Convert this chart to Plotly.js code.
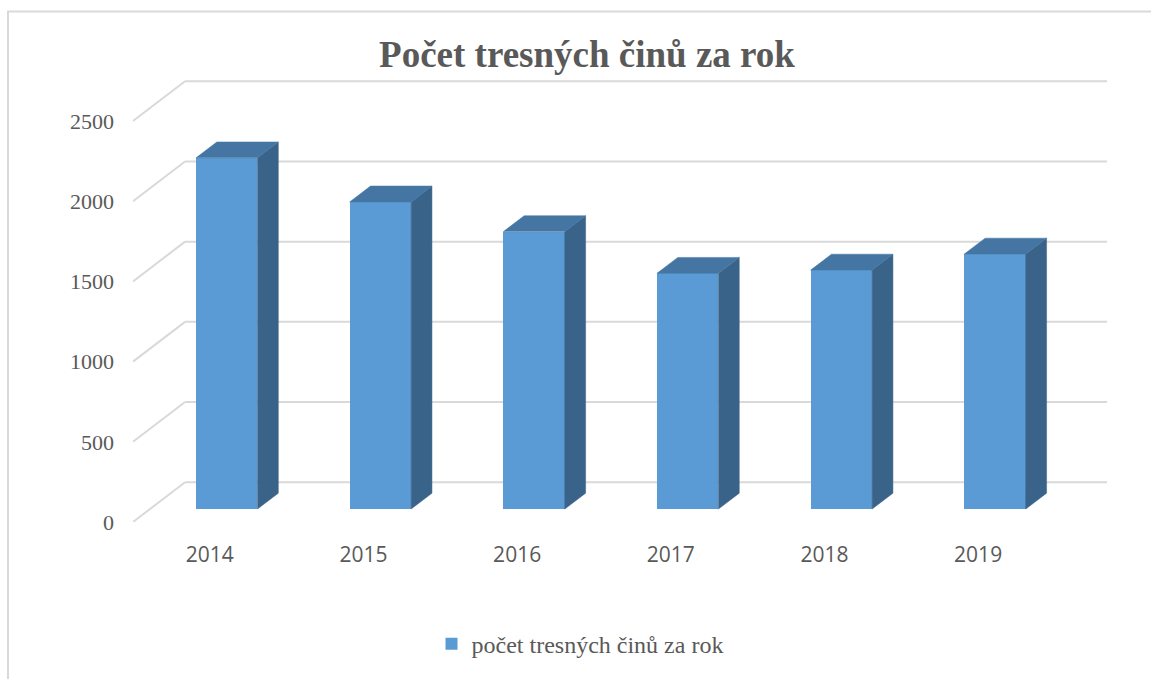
<!DOCTYPE html>
<html>
<head>
<meta charset="utf-8">
<script src="https://cdn.plot.ly/plotly-3.0.1.min.js"></script>
<style>html,body{margin:0;padding:0;background:#fff;}#chart{width:1151px;height:679px;}</style>
</head>
<body>
<div id="chart"></div>
<script>
// ---- data ----
const years = ['2014', '2015', '2016', '2017', '2018', '2019'];
const crimes = [2190, 1915, 1730, 1470, 1490, 1590];
const yTickVals = [0, 500, 1000, 1500, 2000, 2500];
const yTickText = ['0', '500', '1000', '1500', '2000', '2500'];
const seriesName = 'počet tresných činů za rok';
const chartTitle = 'Počet tresných činů za rok';

// ---- 3D projection geometry (oblique) ----
const DX = 52 / 153.5;   // full depth offset, category units
const DY = 248;          // full depth offset, value units
const D0 = 0.325, D1 = 0.725; // bar front / back depth fractions
const BW = 0.4;          // bar width (category units)
const YMAX = 2756;

const xIdx = years.map((_, i) => i);
const GRID = '#d9d9d9', TXT = '#595959';
const FRONT = '#5b9bd5', SIDE = '#3a6389', TOP = '#4576a3';

const traces = [];
// side & top faces computed from values
crimes.forEach((v, i) => {
  const xl = i + D0 * DX - BW / 2, xr = i + D0 * DX + BW / 2;
  const b = D0 * DY;
  const ddx = (D1 - D0) * DX, ddy = (D1 - D0) * DY;
  traces.push({
    type: 'scatter', mode: 'lines', fill: 'toself', fillcolor: SIDE,
    line: {width: 0.5, color: SIDE}, hoverinfo: 'skip', showlegend: false,
    x: [xr, xr + ddx, xr + ddx, xr, xr],
    y: [b, b + ddy, b + ddy + v, b + v, b]
  });
  traces.push({
    type: 'scatter', mode: 'lines', fill: 'toself', fillcolor: TOP,
    line: {width: 0.5, color: TOP}, hoverinfo: 'skip', showlegend: false,
    x: [xl, xr, xr + ddx, xl + ddx, xl],
    y: [b + v, b + v, b + v + ddy, b + v + ddy, b + v]
  });
});
// front faces
traces.push({
  type: 'bar', name: seriesName,
  x: xIdx.map(i => i + D0 * DX), y: crimes, base: crimes.map(() => D0 * DY),
  width: BW, marker: {color: FRONT, line: {width: 0}},
  showlegend: true
});

// gridlines: back wall + left side wall diagonals
const shapes = [];
yTickVals.forEach(t => {
  shapes.push({type: 'line', xref: 'x', yref: 'y', layer: 'below',
    x0: -0.5 + DX, x1: 5.5 + DX, y0: t + DY, y1: t + DY,
    line: {color: GRID, width: 2}});
  shapes.push({type: 'line', xref: 'x', yref: 'y', layer: 'below',
    x0: -0.5, x1: -0.5 + DX, y0: t, y1: t + DY,
    line: {color: GRID, width: 2}});
});
// chart frame (Excel chart area border)
const pw = 974, ph = 445, pl = 133, pt = 80;
const px = X => (X - pl) / pw, py = Y => (pt + ph - Y) / ph;
shapes.push({type: 'rect', xref: 'paper', yref: 'paper', layer: 'below',
  x0: px(8), x1: px(1170), y0: py(11), y1: py(700),
  line: {color: GRID, width: 2}, fillcolor: 'rgba(0,0,0,0)'});

const layout = {
  width: 1151, height: 679,
  margin: {l: 133, r: 44, t: 80, b: 154, pad: 0},
  paper_bgcolor: '#ffffff', plot_bgcolor: 'rgba(0,0,0,0)',
  title: {
    text: '<b>' + chartTitle + '</b>',
    font: {family: 'Liberation Serif, Times New Roman, serif', size: 37, color: TXT},
    xref: 'paper', x: px(587), xanchor: 'center',
    yref: 'container', y: 1 - 54 / 679, yanchor: 'middle'
  },
  xaxis: {
    range: [-0.5, 5.5 + DX], showgrid: false, zeroline: false, showline: false,
    tickmode: 'array', tickvals: xIdx, ticktext: years, ticks: '',
    ticklabelstandoff: 18,
    tickfont: {family: 'Open Sans, Liberation Sans, sans-serif', size: 21, color: TXT},
    fixedrange: true
  },
  yaxis: {
    range: [0, YMAX], showgrid: false, zeroline: false, showline: false,
    tickmode: 'array', tickvals: yTickVals, ticktext: yTickText, ticks: '',
    ticklabelstandoff: 18,
    tickfont: {family: 'Liberation Serif, Times New Roman, serif', size: 22, color: TXT},
    fixedrange: true
  },
  showlegend: true,
  legend: {
    orientation: 'h', xanchor: 'center', x: px(580), yanchor: 'middle', y: py(648),
    font: {family: 'Liberation Serif, Times New Roman, serif', size: 24, color: TXT},
    bgcolor: 'rgba(0,0,0,0)'
  },
  shapes: shapes,
  bargap: 0
};

Plotly.newPlot('chart', traces, layout, {displayModeBar: false, staticPlot: true});
</script>
</body>
</html>
